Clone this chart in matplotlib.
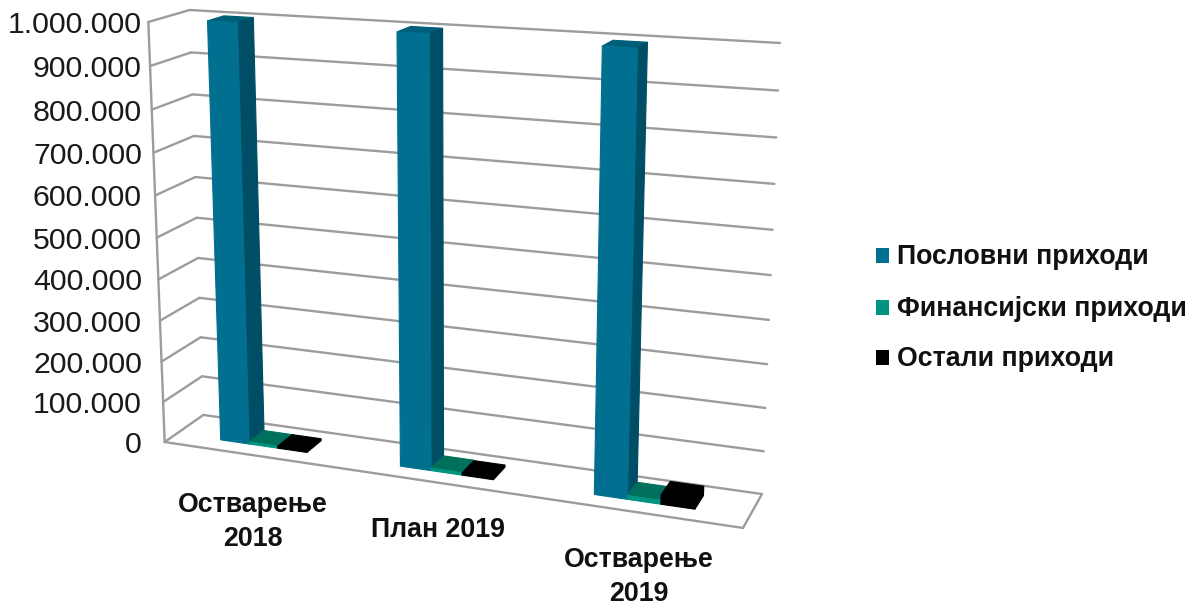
import numpy as np
import matplotlib
matplotlib.use("Agg")
import matplotlib.pyplot as plt
from matplotlib.patches import Polygon, Rectangle

# Podaci
kategorije = ["Остварење\n2018", "План 2019", "Остварење\n2019"]
serije = ["Пословни приходи", "Финансијски приходи", "Остали приходи"]
poslovni = [1000000, 1000000, 995000]
finansijski = [5000, 6000, 9000]
ostali = [5000, 5000, 22000]
podeoci = [0, 100000, 200000, 300000, 400000, 500000, 600000, 700000, 800000, 900000, 1000000]
podeoci_tekst = ["0", "100.000", "200.000", "300.000", "400.000", "500.000",
                 "600.000", "700.000", "800.000", "900.000", "1.000.000"]

# Boje: prednja strana, bocna strana, gornja strana
boje = [("#006F90", "#004E65", "#005E79"),
        ("#009380", "#00604F", "#00705C"),
        ("#000000", "#000000", "#000000")]
boje_legenda = ["#006F90", "#009380", "#000000"]
siva = "#9C9C9C"

VMAX = 1000000.0

# Kamera: uglovi okvira (kategorija, vrednost, dubina) -> pikseli slike
sidra = [
    ((0, 0, 0), (165, 442)),
    ((0, VMAX, 0), (148, 22)),
    ((0, 0, 1), (203, 415)),
    ((0, VMAX, 1), (190, 10)),
    ((3, 0, 1), (762, 494)),
    ((3, VMAX, 1), (780, 43)),
    ((3, 0, 0), (743, 528)),
]
A = []
b = []
for (x, v, d), (u, w) in sidra:
    y = v / VMAX
    A.append([x, y, d, 1, 0, 0, 0, 0, -u * x, -u * y, -u * d])
    b.append(u)
    A.append([0, 0, 0, 0, x, y, d, 1, -w * x, -w * y, -w * d])
    b.append(w)
p = np.linalg.lstsq(np.array(A, float), np.array(b, float), rcond=None)[0]


def proj(x, v, d):
    y = v / VMAX
    s = p[8] * x + p[9] * y + p[10] * d + 1
    return ((p[0] * x + p[1] * y + p[2] * d + p[3]) / s,
            (p[4] * x + p[5] * y + p[6] * d + p[7]) / s)


fig = plt.figure(figsize=(12.02, 6.07), dpi=100)
ax = fig.add_axes([0, 0, 1, 1])
ax.set_xlim(0, 1202)
ax.set_ylim(607, 0)
ax.axis("off")
plt.rcParams["font.family"] = ["Liberation Sans", "DejaVu Sans"]


def linija(a, c):
    xa, ya = proj(*a)
    xc, yc = proj(*c)
    ax.plot([xa, xc], [ya, yc], color=siva, lw=1.7, solid_capstyle="round", zorder=1)


# Mreza
for v in podeoci:
    linija((0, v, 0), (0, v, 1))
    linija((0, v, 1), (3, v, 1))
linija((0, 0, 0), (0, VMAX, 0))
linija((0, 0, 0), (3, 0, 0))
linija((3, 0, 0), (3, 0, 1))

# Stubici
pomak = 0.255
sirina = 0.163
d1, d2 = 0.31, 0.72
for i in range(len(kategorije)):
    vrednosti = [poslovni[i], finansijski[i], ostali[i]]
    for j, v in enumerate(vrednosti):
        x1 = i + pomak + j * sirina
        x2 = x1 + sirina
        prednja, bocna, gornja = boje[j]
        lica = [
            ([(x1, v, d1), (x1, v, d2), (x2, v, d2), (x2, v, d1)], gornja),
            ([(x2, 0, d1), (x2, 0, d2), (x2, v, d2), (x2, v, d1)], bocna),
            ([(x1, 0, d1), (x2, 0, d1), (x2, v, d1), (x1, v, d1)], prednja),
        ]
        for tacke, boja in lica:
            ax.add_patch(Polygon([proj(*t) for t in tacke], closed=True, facecolor=boja,
                                 edgecolor=boja, lw=0.8, zorder=2 + i + j * 0.1))

# Oznake y ose
for v, t in zip(podeoci, podeoci_tekst):
    ax.text(142, proj(0, v, 0)[1] + 3, t, ha="right", va="center", fontsize=21.8, color="#1A1A1A")

# Oznake kategorija
kat_x = [253, 438, 639]
kat_y = [522, 530, 577]
for t, xk, yk in zip(kategorije, kat_x, kat_y):
    ax.text(xk, yk, t, ha="center", va="center", fontsize=19.3, fontweight="bold",
            color="#111111", linespacing=1.4)

# Legenda
leg_y = [257, 309, 359]
for naziv, boja, yl in zip(serije, boje_legenda, leg_y):
    ax.add_patch(Rectangle((876, yl - 9), 13, 15, facecolor=boja, edgecolor="none"))
    ax.text(897, yl, naziv, ha="left", va="center", fontsize=19.3, fontweight="bold", color="#111111")

fig.savefig("out.png", dpi=100)
